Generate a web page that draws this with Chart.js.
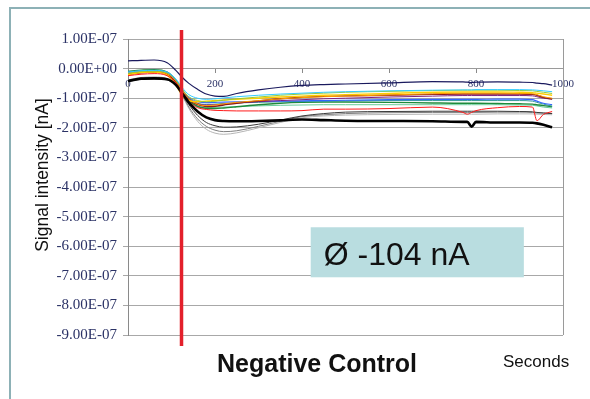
<!DOCTYPE html>
<html>
<head>
<meta charset="utf-8">
<script src="https://cdn.jsdelivr.net/npm/chart.js@4"></script>
<style>
  html, body { margin: 0; padding: 0; background: #fff; overflow: hidden; }
  #frame { position: absolute; left: 9px; top: 7px; width: 640px; height: 440px; border: 2px solid #8db1b6; box-sizing: border-box; }
  #myChart { position: absolute; left: 0; top: 0; }
</style>
</head>
<body>
<div id="frame"></div>
<canvas id="myChart" width="590" height="399"></canvas>
<script>
// time axis (seconds), shared by every trace
const seconds = [0, 30, 60, 90, 110, 125, 140, 160, 180, 200, 220, 250, 300, 350, 400, 450, 500, 600, 700, 770, 780, 790, 800, 850, 900, 930, 940, 955, 975];

// signal values, in units of 1E-07
const blackThick = [-0.42, -0.34, -0.33, -0.36, -0.55, -0.85, -1.15, -1.45, -1.65, -1.74, -1.77, -1.78, -1.77, -1.75, -1.72, -1.74, -1.76, -1.77, -1.78, -1.8, -1.8, -1.96, -1.8, -1.82, -1.82, -1.83, -1.85, -1.9, -1.98];
const navy = [0.26, 0.28, 0.29, 0.2, -0.06, -0.3, -0.5, -0.7, -0.86, -0.93, -0.94, -0.84, -0.72, -0.63, -0.57, -0.54, -0.52, -0.48, -0.44, -0.45, -0.46, -0.47, -0.46, -0.45, -0.46, -0.47, -0.49, -0.51, -0.56];
const red = [-0.24, -0.19, -0.17, -0.24, -0.48, -0.82, -1.12, -1.32, -1.38, -1.41, -1.42, -1.43, -1.43, -1.43, -1.42, -1.37, -1.37, -1.35, -1.3, -1.48, -1.54, -1.48, -1.42, -1.32, -1.28, -1.3, -1.76, -1.55, -1.45];
const cyan = [-0.12, -0.07, -0.06, -0.12, -0.35, -0.65, -0.88, -1.0, -1.04, -1.02, -0.99, -0.95, -0.9, -0.86, -0.83, -0.8, -0.78, -0.75, -0.73, -0.72, -0.72, -0.72, -0.71, -0.71, -0.71, -0.72, -0.73, -0.75, -0.78];
const lime = [-0.16, -0.1, -0.09, -0.15, -0.4, -0.7, -0.95, -1.08, -1.12, -1.1, -1.07, -1.02, -0.96, -0.9, -0.86, -0.83, -0.8, -0.77, -0.74, -0.73, -0.73, -0.73, -0.73, -0.73, -0.74, -0.75, -0.77, -0.8, -0.84];
const yellow = [-0.2, -0.13, -0.12, -0.22, -0.55, -0.92, -1.08, -1.12, -1.1, -1.08, -1.06, -1.04, -1.0, -0.96, -0.93, -0.9, -0.88, -0.84, -0.8, -0.79, -0.79, -0.79, -0.79, -0.79, -0.8, -0.81, -0.83, -0.86, -0.9];
const orange = [-0.15, -0.1, -0.09, -0.17, -0.42, -0.75, -1.02, -1.2, -1.25, -1.23, -1.19, -1.14, -1.08, -1.02, -0.98, -0.95, -0.93, -0.89, -0.85, -0.83, -0.83, -0.83, -0.83, -0.83, -0.84, -0.85, -0.88, -0.95, -1.0];
const darkRed = [-0.2, -0.14, -0.12, -0.19, -0.45, -0.78, -1.05, -1.22, -1.28, -1.27, -1.23, -1.17, -1.09, -1.02, -0.97, -0.94, -0.92, -0.9, -0.87, -0.86, -0.86, -0.86, -0.86, -0.86, -0.86, -0.87, -0.9, -0.97, -1.03];
const purple = [-0.17, -0.12, -0.1, -0.17, -0.43, -0.77, -1.02, -1.18, -1.23, -1.22, -1.2, -1.16, -1.12, -1.08, -1.05, -1.02, -1.0, -0.96, -0.93, -0.91, -0.91, -0.91, -0.91, -0.91, -0.91, -0.92, -0.95, -1.0, -1.03];
const blue = [-0.13, -0.09, -0.08, -0.14, -0.4, -0.74, -0.98, -1.12, -1.15, -1.14, -1.13, -1.12, -1.11, -1.1, -1.09, -1.08, -1.07, -1.05, -1.04, -1.04, -1.04, -1.04, -1.04, -1.03, -1.03, -1.05, -1.1, -1.17, -1.22];
const teal = [-0.11, -0.07, -0.06, -0.12, -0.38, -0.72, -1.0, -1.17, -1.21, -1.2, -1.18, -1.16, -1.14, -1.12, -1.11, -1.1, -1.09, -1.08, -1.08, -1.08, -1.08, -1.08, -1.08, -1.08, -1.08, -1.1, -1.14, -1.2, -1.27];
const green = [-0.1, -0.05, -0.04, -0.12, -0.4, -0.76, -1.08, -1.28, -1.34, -1.35, -1.33, -1.29, -1.22, -1.17, -1.14, -1.13, -1.13, -1.14, -1.16, -1.17, -1.17, -1.17, -1.17, -1.18, -1.19, -1.2, -1.22, -1.25, -1.28];
const lightGreen = [-0.14, -0.09, -0.08, -0.16, -0.44, -0.8, -1.1, -1.27, -1.32, -1.31, -1.3, -1.28, -1.26, -1.24, -1.23, -1.22, -1.22, -1.22, -1.22, -1.22, -1.22, -1.22, -1.22, -1.22, -1.23, -1.24, -1.26, -1.3, -1.33];
const grey = [-0.4, -0.32, -0.3, -0.35, -0.55, -0.9, -1.3, -1.7, -1.95, -2.08, -2.13, -2.1, -1.95, -1.78, -1.62, -1.56, -1.52, -1.49, -1.48, -1.48, -1.48, -1.48, -1.48, -1.47, -1.47, -1.48, -1.5, -1.5, -1.52];
const lightGrey = [-0.38, -0.3, -0.28, -0.34, -0.55, -0.92, -1.35, -1.78, -2.05, -2.18, -2.22, -2.17, -2.0, -1.82, -1.66, -1.6, -1.57, -1.55, -1.54, -1.54, -1.54, -1.54, -1.54, -1.53, -1.53, -1.53, -1.54, -1.55, -1.56];
const darkGrey = [-0.44, -0.36, -0.35, -0.38, -0.56, -0.88, -1.22, -1.58, -1.82, -1.93, -1.98, -1.97, -1.88, -1.74, -1.6, -1.52, -1.47, -1.45, -1.44, -1.44, -1.44, -1.44, -1.44, -1.44, -1.45, -1.46, -1.48, -1.5, -1.52];

const markerSecond = 123;       // red vertical line
const meanText = 'Ø -104 nA';
const chartTitle = 'Negative Control';
const xUnit = 'Seconds';
const yTitle = 'Signal intensity [nA]';

const traces = [
  [blackThick, '#000000', 2.6],
  [navy, '#1a1a5e', 1.2],
  [red, '#ff1a1a', 1],
  [cyan, '#33ccff', 1],
  [lime, '#99cc33', 1],
  [yellow, '#ffcc00', 1.4],
  [orange, '#ff9900', 1],
  [darkRed, '#8b1a1a', 1.4],
  [purple, '#802080', 1],
  [blue, '#3366ff', 1.2],
  [teal, '#339999', 1],
  [green, '#1f8a3a', 1.4],
  [lightGreen, '#66cc99', 1],
  [darkGrey, '#3a3a3a', 1],
  [grey, '#7f7f7f', 1],
  [lightGrey, '#b5b5b5', 1]
];

function sci(v) {
  const s = (v * 1e-7).toExponential(2);
  const parts = s.split('e');
  const e = parseInt(parts[1]);
  return parts[0] + 'E' + (e < 0 ? '-' : '+') + String(Math.abs(e)).padStart(2, '0');
}

const overlay = {
  id: 'overlay',
  beforeDatasetsDraw(chart) {
    const ctx = chart.ctx, a = chart.chartArea;
    const x = chart.scales.x, y = chart.scales.y;
    ctx.save();
    // right border of plot area
    ctx.strokeStyle = '#9a9a9a';
    ctx.lineWidth = 1;
    ctx.beginPath();
    ctx.moveTo(Math.round(a.right) + 0.5, a.top);
    ctx.lineTo(Math.round(a.right) + 0.5, a.bottom);
    ctx.stroke();
    // mean value box
    const bx = x.getPixelForValue(420), bx2 = x.getPixelForValue(910);
    const by = y.getPixelForValue(-5.36), by2 = y.getPixelForValue(-7.05);
    ctx.fillStyle = '#b9dde0';
    ctx.fillRect(bx, by, bx2 - bx, by2 - by);
    ctx.fillStyle = '#111111';
    ctx.font = '32px "Liberation Sans", Arial, sans-serif';
    ctx.textBaseline = 'alphabetic';
    ctx.textAlign = 'left';
    ctx.fillText(meanText, bx + 13, by2 - 12);
    ctx.restore();
  },
  afterDatasetsDraw(chart) {
    const ctx = chart.ctx, a = chart.chartArea;
    const px = chart.scales.x.getPixelForValue(markerSecond);
    ctx.save();
    ctx.strokeStyle = '#e3202b';
    ctx.lineWidth = 3.5;
    ctx.beginPath();
    ctx.moveTo(px, a.top - 9);
    ctx.lineTo(px, a.bottom + 11);
    ctx.stroke();
    ctx.restore();
  },
  afterDraw(chart) {
    const ctx = chart.ctx, a = chart.chartArea;
    ctx.save();
    ctx.fillStyle = '#111111';
    ctx.textBaseline = 'alphabetic';
    ctx.textAlign = 'left';
    ctx.font = 'bold 25px "Liberation Sans", Arial, sans-serif';
    ctx.fillText(chartTitle, a.left + 89, a.bottom + 37);
    ctx.font = '17px "Liberation Sans", Arial, sans-serif';
    ctx.fillText(xUnit, a.right - 60, a.bottom + 32);
    ctx.translate(43, 175);
    ctx.rotate(-Math.PI / 2);
    ctx.textAlign = 'center';
    ctx.textBaseline = 'middle';
    ctx.font = '17.5px "Liberation Sans", Arial, sans-serif';
    ctx.fillText(yTitle, 0, 0);
    ctx.restore();
  }
};

var ctx = document.getElementById('myChart').getContext('2d');

var myChart = new Chart(ctx, {
  type: 'line',
  data: {
    datasets: traces.map(([vals, color, w]) => ({
      data: seconds.map((s, i) => ({ x: s, y: vals[i] })),
      borderColor: color,
      borderWidth: w,
      pointRadius: 0,
      fill: false,
      cubicInterpolationMode: 'monotone'
    }))
  },
  options: {
    responsive: false,
    animation: false,
    layout: { padding: { left: 0, top: 39, right: 27, bottom: 64 } },
    plugins: { legend: { display: false }, tooltip: { enabled: false } },
    scales: {
      x: {
        type: 'linear',
        position: { y: 0 },
        min: 0,
        max: 1000,
        afterFit: (s) => { s.height = 0; },
        grid: { drawOnChartArea: false, tickLength: 4, color: '#8a8a8a' },
        border: { color: '#9a9a9a' },
        ticks: {
          stepSize: 200,
          padding: 5,
          maxRotation: 0,
          color: '#2b3266',
          font: { family: '"Liberation Serif", "Times New Roman", serif', size: 11 },
          callback: (v) => String(v)
        }
      },
      y: {
        position: 'left',
        min: -9,
        max: 1,
        afterFit: (s) => { s.width = 128; },
        grid: { color: '#a8a8a8', tickLength: 5 },
        border: { color: '#8a8a8a' },
        ticks: {
          stepSize: 1,
          padding: 6,
          color: '#2b3266',
          font: { family: '"Liberation Serif", "Times New Roman", serif', size: 15 },
          callback: (v) => sci(v)
        }
      }
    }
  },
  plugins: [overlay]
});
</script>
</body>
</html>
